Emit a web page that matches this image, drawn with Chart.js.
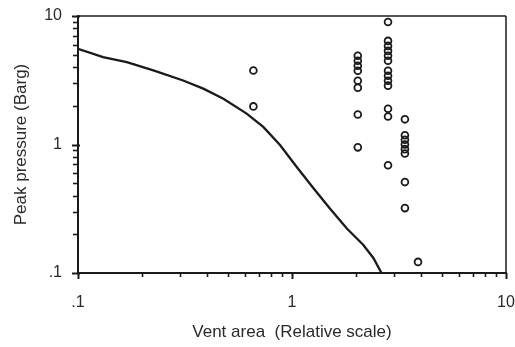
<!DOCTYPE html>
<html>
<head>
<meta charset="utf-8">
<script src="https://cdn.jsdelivr.net/npm/chart.js@4.4.1/dist/chart.umd.min.js"></script>
<style>
  html, body { margin: 0; padding: 0; background: #fff; }
  canvas { display: block; }
</style>
</head>
<body>
<canvas id="vent-chart" width="515" height="347"></canvas>
<script>
(function () {
  'use strict';

  // ============================================================
  //  Data
  // ============================================================
  // Venting guideline curve
  var curveArea = [0.1, 0.131, 0.169, 0.225, 0.31, 0.385, 0.478, 0.614, 0.734, 0.879, 1.05, 1.26, 1.5, 1.8, 2.15, 2.4, 2.62];
  var curvePressure = [5.55, 4.78, 4.38, 3.77, 3.15, 2.72, 2.27, 1.74, 1.37, 0.99, 0.671, 0.456, 0.319, 0.223, 0.166, 0.131, 0.1];

  // Test results: one vent area per column of circles
  var testAreas = [0.66, 2.03, 2.81, 3.37, 3.88];
  var testPressures = [
    [3.77, 1.98],
    [4.9, 4.48, 4.1, 3.75, 3.13, 2.77, 1.71, 0.95],
    [8.98, 6.4, 5.85, 5.35, 4.9, 4.48, 3.75, 3.43, 3.13, 2.87, 1.9, 1.65, 0.69],
    [1.57, 1.18, 1.09, 1.0, 0.92, 0.85, 0.51, 0.32],
    [0.122]
  ];

  // Log tick positions (both axes) and the labels shown on the decades
  var tickValues = [0.1, 0.2, 0.3, 0.4, 0.5, 0.6, 0.7, 0.8, 0.9, 1, 2, 3, 4, 5, 6, 7, 8, 9, 10];
  var majorLabels = { '0.1': '.1', '1': '1', '10': '10' };

  // ============================================================
  //  Build datasets
  // ============================================================
  var curvePoints = curveArea.map(function (a, i) { return { x: a, y: curvePressure[i] }; });
  var testPoints = [];
  testAreas.forEach(function (a, i) {
    testPressures[i].forEach(function (p) { testPoints.push({ x: a, y: p }); });
  });

  var ink = '#1a1a1a';
  var textInk = '#2a2a2a';

  function isMajor(v) {
    return majorLabels[String(Math.round(v * 1000) / 1000)] !== undefined;
  }

  // frame on top/right + tick marks taken from the scales' ticks
  var framePlugin = {
    id: 'frame',
    afterDraw: function (chart) {
      var a = chart.chartArea;
      var ctx = chart.ctx;
      var xs = chart.scales.x, ys = chart.scales.y;
      ctx.save();
      ctx.strokeStyle = '#555';
      ctx.lineWidth = 2;
      ctx.beginPath();
      ctx.moveTo(a.left, a.top);
      ctx.lineTo(a.right, a.top);
      ctx.stroke();

      ctx.strokeStyle = ink;
      ctx.lineWidth = 1.5;
      ctx.beginPath();
      ctx.moveTo(a.right, a.top);
      ctx.lineTo(a.right, a.bottom);
      ctx.stroke();

      xs.ticks.forEach(function (t) {
        var px = Math.round(xs.getPixelForValue(t.value)) + 0.5;
        var major = isMajor(t.value);
        ctx.lineWidth = major ? 2 : 1.6;
        ctx.beginPath();
        ctx.moveTo(px, a.bottom);
        ctx.lineTo(px, a.bottom + (major ? 6 : 4));
        ctx.stroke();
      });
      ys.ticks.forEach(function (t) {
        var py = Math.round(ys.getPixelForValue(t.value)) + 0.5;
        var major = isMajor(t.value);
        ctx.lineWidth = major ? 2 : 1.6;
        ctx.beginPath();
        ctx.moveTo(a.left - (major ? 6 : 5), py);
        ctx.lineTo(a.left + (major ? 2 : 0), py);
        ctx.stroke();
      });
      ctx.restore();
    }
  };

  function tickLabel(value) {
    var key = String(Math.round(value * 1000) / 1000);
    return majorLabels[key] || ' ';
  }

  function setTicks(scale) {
    scale.ticks = tickValues.map(function (v) {
      return { value: v, major: isMajor(v) };
    });
  }

  new Chart(document.getElementById('vent-chart').getContext('2d'), {
    type: 'scatter',
    data: {
      datasets: [{
        label: 'Curve',
        data: curvePoints,
        showLine: true,
        borderColor: ink,
        borderWidth: 2.3,
        pointRadius: 0,
        tension: 0,
        fill: false
      }, {
        label: 'Tests',
        data: testPoints,
        pointStyle: 'circle',
        pointRadius: 3.4,
        pointBorderWidth: 1.8,
        pointBorderColor: ink,
        pointBackgroundColor: 'rgba(255,255,255,0)'
      }]
    },
    options: {
      responsive: false,
      animation: false,
      layout: { padding: { top: 16, right: 9, left: 0, bottom: 0 } },
      plugins: { legend: { display: false }, tooltip: { enabled: false } },
      scales: {
        x: {
          type: 'logarithmic',
          min: 0.1, max: 10,
          border: { display: true, color: ink, width: 2 },
          grid: { display: false, drawOnChartArea: false, drawTicks: true, tickLength: 5 },
          ticks: {
            autoSkip: false, maxRotation: 0, padding: 15,
            color: textInk, font: { family: 'Liberation Sans', size: 16 },
            callback: tickLabel
          },
          title: {
            display: true, text: 'Vent area  (Relative scale)',
            color: textInk, font: { family: 'Liberation Sans', size: 17 },
            padding: { top: 0, bottom: 4 }
          },
          afterBuildTicks: setTicks,
          afterFit: function (scale) {
            scale.height = 74;
            scale.paddingLeft = 0;
            scale.paddingRight = 0;
          }
        },
        y: {
          type: 'logarithmic',
          min: 0.1, max: 10,
          border: { display: true, color: ink, width: 2 },
          grid: { display: false, drawOnChartArea: false, drawTicks: true, tickLength: 5 },
          ticks: {
            autoSkip: false, padding: 11,
            color: textInk, font: { family: 'Liberation Sans', size: 16 },
            callback: tickLabel
          },
          title: {
            display: true, text: 'Peak pressure (Barg)',
            color: textInk, font: { family: 'Liberation Sans', size: 17 },
            padding: { top: 11, bottom: 0 }
          },
          afterBuildTicks: setTicks,
          afterFit: function (scale) {
            scale.width = 78;
            scale.paddingTop = 0;
            scale.paddingBottom = 0;
          }
        }
      }
    },
    plugins: [framePlugin]
  });

})();
</script>
</body>
</html>
